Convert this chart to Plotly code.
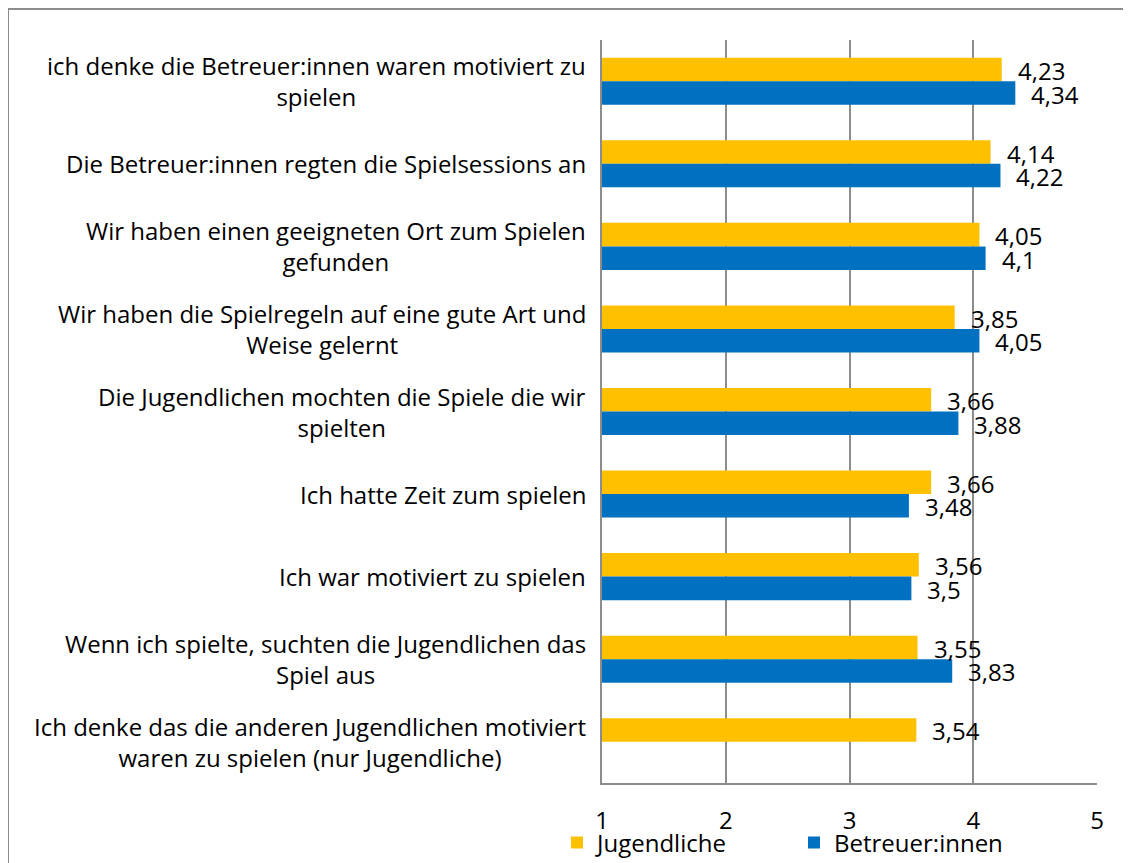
import plotly.graph_objects as go

categories = [
    "ich denke die Betreuer:innen waren motiviert zu<br>spielen",
    "Die Betreuer:innen regten die Spielsessions an",
    "Wir haben einen geeigneten Ort zum Spielen<br>gefunden",
    "Wir haben die Spielregeln auf eine gute Art und<br>Weise gelernt",
    "Die Jugendlichen mochten die Spiele die wir<br>spielten",
    "Ich hatte Zeit zum spielen",
    "Ich war motiviert zu spielen",
    "Wenn ich spielte, suchten die Jugendlichen das<br>Spiel aus",
    "Ich denke das die anderen Jugendlichen motiviert<br>waren zu spielen (nur Jugendliche)",
]
jugendliche = [4.23, 4.14, 4.05, 3.85, 3.66, 3.66, 3.56, 3.55, 3.54]
betreuer = [4.34, 4.22, 4.10, 4.05, 3.88, 3.48, 3.50, 3.83, None]
x_ticks = [1, 2, 3, 4, 5]

FONT = "Open Sans"
FS = 24
OFF = 8  # page body margin
W, H = 1131 - OFF, 863 - OFF
L, R, T, B = 602 - OFF, 34, 40 - OFF, 80
pw, ph = W - L - R, H - T - B

def px_x(px):
    return (px - OFF - L) / pw

def px_y(py):
    return (T + ph - (py - OFF)) / ph

def fmt(v):
    return ("%g" % v).replace(".", ",")

fig = go.Figure()
fig.add_trace(go.Bar(y=list(range(len(categories))), x=jugendliche, orientation="h",
                     name="Jugendliche", marker=dict(color="#FFC000", line=dict(width=0))))
fig.add_trace(go.Bar(y=list(range(len(categories))), x=betreuer, orientation="h",
                     name="Betreuer:innen", marker=dict(color="#0070C0", line=dict(width=0))))

ann = []
for i, c in enumerate(categories):
    ann.append(dict(x=0, xref="paper", y=i, yref="y", text=c, showarrow=False,
                    xanchor="right", yanchor="middle", align="center", xshift=-14,
                    font=dict(family=FONT, size=FS, color="#000")))
off = 0.1425
for i, (a, b) in enumerate(zip(jugendliche, betreuer)):
    if a is not None:
        ann.append(dict(x=a, y=i - off, xref="x", yref="y", text=fmt(a), showarrow=False,
                        xanchor="left", yanchor="middle", xshift=14, yshift=-1,
                        font=dict(family=FONT, size=FS, color="#000")))
    if b is not None:
        ann.append(dict(x=b, y=i + off, xref="x", yref="y", text=fmt(b), showarrow=False,
                        xanchor="left", yanchor="middle", xshift=14, yshift=-1,
                        font=dict(family=FONT, size=FS, color="#000")))

fig.update_layout(
    width=W, height=H,
    margin=dict(l=L, r=R, t=T, b=B, autoexpand=False),
    paper_bgcolor="white", plot_bgcolor="white",
    barmode="group", bargap=0.43, bargroupgap=0,
    font=dict(family=FONT, size=FS, color="#000"),
    xaxis=dict(range=[1, 5], tickvals=x_ticks, ticktext=[str(t) for t in x_ticks],
               showgrid=True, gridcolor="#8c8c8c", gridwidth=1.5,
               showline=True, linecolor="#8c8c8c", linewidth=1.5,
               zeroline=False, ticks="outside", ticklen=0, ticklabelstandoff=15,
               tickfont=dict(family=FONT, size=FS, color="#000")),
    yaxis=dict(range=[8.5, -0.5], showticklabels=False, showgrid=False, zeroline=False,
               showline=True, linecolor="#8c8c8c", linewidth=1.5, ticks=""),
    legend=dict(orientation="h", x=px_x(557), xanchor="left",
                y=px_y(843), yanchor="middle",
                entrywidth=192, entrywidthmode="pixels",
                font=dict(family=FONT, size=FS, color="#000"),
                itemwidth=30, tracegroupgap=0, bgcolor="rgba(0,0,0,0)"),
    annotations=ann,
    shapes=[dict(type="rect", xref="paper", yref="paper",
                 x0=px_x(8), x1=px_x(1130),
                 y0=px_y(880), y1=px_y(9),
                 line=dict(color="#8c8c8c", width=2), fillcolor="rgba(0,0,0,0)", layer="below")],
)
fig.write_html("out.html")
